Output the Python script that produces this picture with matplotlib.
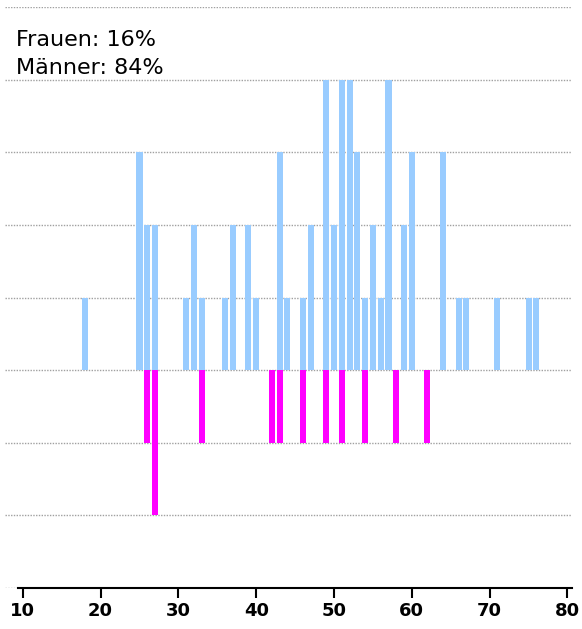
import matplotlib
matplotlib.use("Agg")
import matplotlib.pyplot as plt

# Altersverteilung der Teilnehmer
maenner_alter = [18, 25, 26, 27, 31, 32, 33, 36, 37, 39, 40, 43, 44, 46, 47,
                 49, 50, 51, 52, 53, 54, 55, 56, 57, 59, 60, 64, 66, 67, 71, 75, 76]
maenner_anzahl = [1, 3, 2, 2, 1, 2, 1, 1, 2, 2, 1, 3, 1, 1, 2,
                  4, 2, 4, 4, 3, 1, 2, 1, 4, 2, 3, 3, 1, 1, 1, 1, 1]
frauen_alter = [26, 27, 33, 42, 43, 46, 49, 51, 54, 58, 62]
frauen_anzahl = [1, 2, 1, 1, 1, 1, 1, 1, 1, 1, 1]

x_ticks = [10, 20, 30, 40, 50, 60, 70, 80]
grid_levels = [-3, -2, -1, 0, 1, 2, 3, 4, 5]

n_m = sum(maenner_anzahl)
n_f = sum(frauen_anzahl)
anteil_f = round(100 * n_f / (n_m + n_f))
anteil_m = round(100 * n_m / (n_m + n_f))

fig = plt.figure(figsize=(5.82, 6.29), dpi=100)
ax = fig.add_axes([5 / 582, 1 - 588 / 629, 566 / 582, 581 / 629])

for lvl in grid_levels:
    ax.axhline(lvl, color="#a0a0a0", lw=1, ls=(0, (1, 1)), zorder=0)

ax.bar(maenner_alter, maenner_anzahl, width=0.78, color="#99ccff", zorder=2)
ax.bar(frauen_alter, [-v for v in frauen_anzahl], width=0.78, color="#ff00ff", zorder=2)

ax.set_xlim(7.72, 80.45)
ax.set_ylim(-3, 5)
ax.set_yticks([])
ax.set_xticks(x_ticks)
ax.set_xticklabels([str(t) for t in x_ticks], fontsize=13, fontweight="bold")
ax.tick_params(axis="x", length=7, width=1.5, pad=3)

for side in ["top", "right", "left"]:
    ax.spines[side].set_visible(False)
ax.spines["bottom"].set_linewidth(1.5)
ax.spines["bottom"].set_bounds(9.45, 80.6)
ax.spines["bottom"].set_clip_on(False)

fig.text(16 / 582, 1 - 40 / 629, f"Frauen: {anteil_f}%", fontsize=16, va="center")
fig.text(16 / 582, 1 - 68 / 629, f"Männer: {anteil_m}%", fontsize=16, va="center")

fig.savefig("out.png", dpi=100)
